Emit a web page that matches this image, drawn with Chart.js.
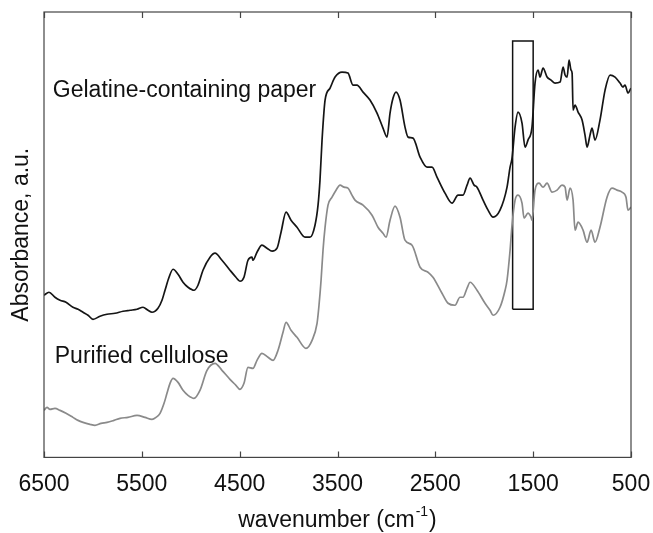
<!DOCTYPE html>
<html>
<head>
<meta charset="utf-8">
<script src="https://cdn.jsdelivr.net/npm/chart.js@4.4.1/dist/chart.umd.min.js"></script>
<style>
  html, body { margin: 0; padding: 0; background: #fff; }
</style>
</head>
<body>
<canvas id="ftirChart" width="653" height="533"></canvas>
<script>
// NIR/FTIR spectra: wavenumber (cm-1) and absorbance (a.u., offset)
const gelatineWn = [6500,6449,6388,6336,6275,6204,6152,6101,6050,5999,
  5928,5856,5774,5692,5621,5549,5488,5437,5396,5335,
  5294,5263,5222,5181,5130,5079,5028,4967,4926,4875,
  4803,4752,4681,4599,4538,4497,4456,4415,4374,4364,
  4323,4272,4221,4169,4118,4077,4026,3975,3914,3832,
  3781,3730,3699,3679,3658,3627,3576,3525,3454,3393,
  3342,3301,3239,3168,3096,3035,2994,2963,2932,2902,
  2861,2810,2779,2728,2656,2585,2534,2483,2401,2329,
  2268,2217,2176,2145,2104,2074,2012,1961,1910,1839,
  1767,1736,1716,1685,1655,1614,1583,1553,1512,1481,
  1450,1430,1399,1358,1317,1276,1225,1194,1174,1153,
  1133,1113,1102,1092,1072,1041,1000,970,949,919,
  898,868,817,765,714,663,612,582,561,531,
  500];
const gelatineAbs = [1.62,1.65,1.60,1.57,1.55,1.50,1.48,1.45,1.42,1.38,
  1.41,1.43,1.44,1.46,1.47,1.48,1.50,1.47,1.45,1.49,
  1.57,1.67,1.80,1.88,1.83,1.75,1.70,1.67,1.72,1.87,
  2.00,2.04,1.97,1.87,1.80,1.76,1.80,1.97,2.00,1.97,
  2.05,2.12,2.09,2.06,2.09,2.25,2.45,2.37,2.30,2.20,
  2.20,2.32,2.52,2.77,3.17,3.57,3.69,3.80,3.85,3.84,
  3.72,3.72,3.65,3.57,3.44,3.29,3.20,3.44,3.59,3.65,
  3.57,3.30,3.20,3.19,3.00,2.90,2.90,2.80,2.64,2.54,
  2.62,2.62,2.72,2.79,2.72,2.70,2.57,2.47,2.40,2.47,
  2.70,2.90,2.99,3.30,3.45,3.34,3.10,3.17,3.30,3.74,
  3.87,3.80,3.89,3.80,3.77,3.74,3.75,3.90,3.82,3.80,
  3.97,3.87,3.84,3.47,3.52,3.45,3.37,3.22,3.10,3.22,
  3.29,3.17,3.37,3.67,3.82,3.80,3.74,3.70,3.72,3.64,
  3.69];

const celluloseWn = [6500,6469,6439,6388,6336,6275,6204,6152,6101,6030,
  5979,5917,5856,5785,5723,5642,5549,5468,5396,5355,
  5314,5273,5243,5212,5181,5130,5079,5028,4967,4906,
  4834,4752,4681,4599,4538,4497,4456,4415,4364,4323,
  4272,4210,4159,4108,4057,4026,3975,3914,3822,3760,
  3709,3689,3668,3648,3627,3597,3556,3515,3474,3433,
  3393,3352,3321,3239,3147,3086,3035,3004,2963,2912,
  2861,2810,2738,2656,2575,2524,2432,2370,2299,2248,
  2217,2176,2145,2074,1992,1941,1910,1839,1787,1767,
  1736,1716,1685,1655,1614,1593,1553,1522,1512,1481,
  1440,1399,1358,1307,1256,1205,1174,1153,1123,1092,
  1072,1041,990,949,908,868,817,745,694,643,
  592,551,531,500];
const celluloseAbs = [0.47,0.50,0.48,0.49,0.47,0.44,0.40,0.37,0.35,0.33,
  0.32,0.34,0.35,0.37,0.39,0.40,0.42,0.40,0.38,0.40,
  0.44,0.54,0.64,0.74,0.79,0.75,0.67,0.62,0.59,0.67,
  0.87,0.94,0.87,0.78,0.72,0.68,0.74,0.90,0.89,0.97,
  1.04,1.00,0.97,1.07,1.25,1.35,1.27,1.20,1.09,1.17,
  1.34,1.52,1.77,2.07,2.30,2.52,2.60,2.67,2.72,2.70,
  2.69,2.62,2.57,2.52,2.42,2.30,2.24,2.20,2.37,2.51,
  2.40,2.17,2.12,1.90,1.85,1.80,1.64,1.54,1.52,1.60,
  1.60,1.69,1.75,1.67,1.54,1.47,1.42,1.50,1.67,1.77,
  2.07,2.32,2.57,2.62,2.54,2.39,2.44,2.40,2.37,2.67,
  2.74,2.70,2.74,2.65,2.67,2.72,2.70,2.57,2.69,2.57,
  2.27,2.35,2.27,2.15,2.27,2.15,2.30,2.60,2.69,2.67,
  2.65,2.60,2.47,2.50];

// amide band highlight box
const boxWn = [1710, 1710, 1500, 1500, 1710];
const boxAbs = [1.48, 4.16, 4.16, 1.48, 1.48];

const xTicks = [6500, 5500, 4500, 3500, 2500, 1500, 500];
const seriesLabels = ['Gelatine-containing paper', 'Purified cellulose'];

const FONT = '"Liberation Sans", Arial, Helvetica, sans-serif';
const FS = 23;

function toPoints(xs, ys) {
  return xs.map((v, i) => ({ x: v, y: ys[i] }));
}

// frame, inward ticks, text labels
const decorPlugin = {
  id: 'decor',
  afterDraw(chart) {
    const { ctx, chartArea: a, scales: { x, y } } = chart;
    ctx.save();
    ctx.strokeStyle = '#444';
    ctx.lineWidth = 1.2;
    ctx.strokeRect(a.left, a.top, a.right - a.left, a.bottom - a.top);

    ctx.beginPath();
    xTicks.forEach(v => {
      const px = Math.round(x.getPixelForValue(v)) + 0.5;
      ctx.moveTo(px, a.top); ctx.lineTo(px, a.top + 6);
      ctx.moveTo(px, a.bottom); ctx.lineTo(px, a.bottom - 6);
    });
    ctx.stroke();

    ctx.fillStyle = '#111';
    ctx.font = FS + 'px ' + FONT;
    ctx.textAlign = 'left';
    ctx.textBaseline = 'middle';
    ctx.fillText(seriesLabels[0], x.getPixelForValue(6410), y.getPixelForValue(3.665));
    ctx.fillText(seriesLabels[1], x.getPixelForValue(6390), y.getPixelForValue(1.01));

    // y title
    ctx.save();
    ctx.translate(22, (a.top + a.bottom) / 2);
    ctx.rotate(-Math.PI / 2);
    ctx.textAlign = 'center';
    ctx.fillText('Absorbance, a.u.', 0, 0);
    ctx.restore();

    // x title with superscript
    const main = 'wavenumber (cm';
    const sup = '-1';
    const tail = ')';
    ctx.textBaseline = 'alphabetic';
    ctx.font = FS + 'px ' + FONT;
    const w1 = ctx.measureText(main).width;
    const w3 = ctx.measureText(tail).width;
    ctx.font = '14px ' + FONT;
    const w2 = ctx.measureText(sup).width;
    const total = w1 + w2 + w3 + 2;
    let sx = (a.left + a.right) / 2 - total / 2;
    const base = a.bottom + 70;
    ctx.font = FS + 'px ' + FONT;
    ctx.fillText(main, sx, base);
    ctx.font = '14px ' + FONT;
    ctx.fillText(sup, sx + w1 + 1, base - 11);
    ctx.font = FS + 'px ' + FONT;
    ctx.fillText(tail, sx + w1 + w2 + 2, base);
    ctx.restore();
  }
};

new Chart(document.getElementById('ftirChart').getContext('2d'), {
  type: 'line',
  data: {
    datasets: [
      {
        label: seriesLabels[0],
        data: toPoints(gelatineWn, gelatineAbs),
        borderColor: '#151515',
        borderWidth: 1.7,
        pointRadius: 0,
        cubicInterpolationMode: 'monotone'
      },
      {
        label: seriesLabels[1],
        data: toPoints(celluloseWn, celluloseAbs),
        borderColor: '#8a8a8a',
        borderWidth: 1.7,
        pointRadius: 0,
        cubicInterpolationMode: 'monotone'
      },
      {
        label: 'box',
        data: toPoints(boxWn, boxAbs),
        borderColor: '#111',
        borderWidth: 1.5,
        pointRadius: 0,
        tension: 0
      }
    ]
  },
  options: {
    responsive: false,
    animation: false,
    events: [],
    layout: { padding: { left: 44, right: 22, top: 12, bottom: 22 } },
    plugins: { legend: { display: false }, tooltip: { enabled: false } },
    scales: {
      x: {
        type: 'linear',
        reverse: true,
        min: 500,
        max: 6500,
        afterBuildTicks: scale => { scale.ticks = xTicks.map(v => ({ value: v })); },
        afterFit: scale => { scale.paddingLeft = 0; scale.paddingRight = 0; },
        grid: { display: false, drawTicks: false },
        border: { display: false },
        ticks: {
          padding: 13,
          maxRotation: 0,
          autoSkip: false,
          color: '#111',
          font: { family: FONT, size: FS },
          callback: v => String(v)
        }
      },
      y: {
        display: false,
        min: 0,
        max: 4.45
      }
    }
  },
  plugins: [decorPlugin]
});
</script>
</body>
</html>
